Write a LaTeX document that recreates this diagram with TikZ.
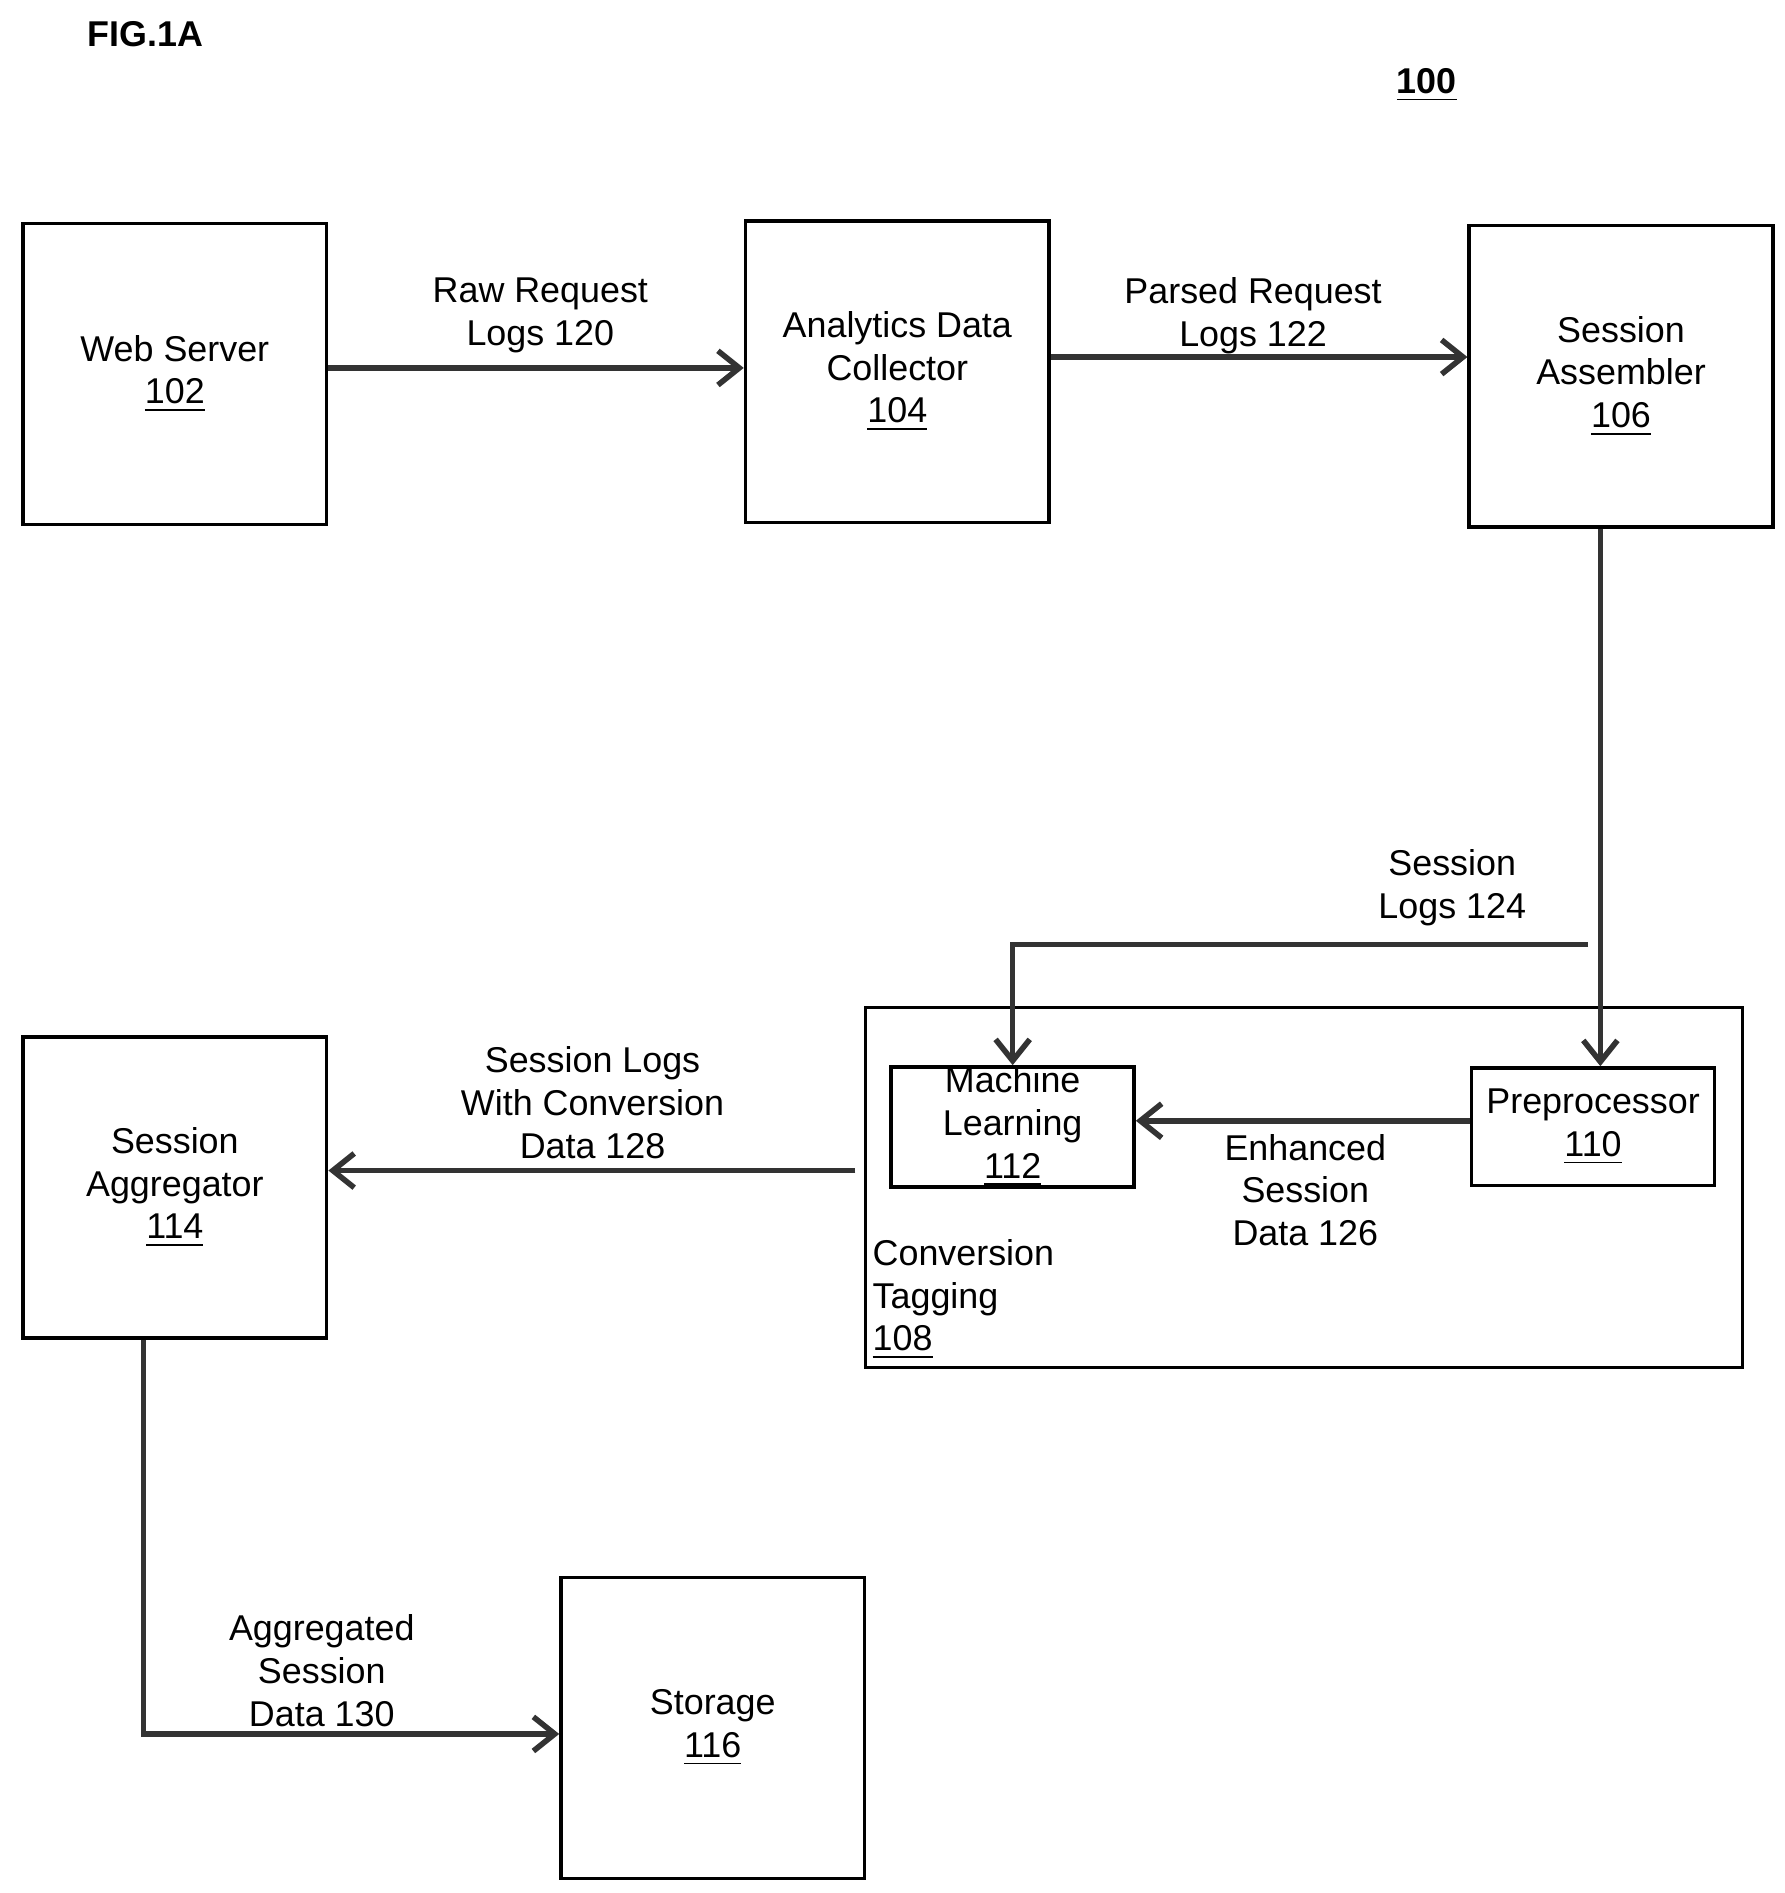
\documentclass[tikz,border=0pt]{standalone}
\usepackage{fontspec}
\setmainfont{Liberation Sans}
\usetikzlibrary{arrows.meta,positioning}
\begin{document}
\fontsize{8.4}{10}\selectfont
\begin{tikzpicture}[x=0.01cm,y=-0.01cm,
        % Styles
        block/.style={draw,line width=0.8pt,minimum width=2.5cm,minimum height=2.48cm,align=center,inner sep=0pt},
        small block/.style={draw,line width=0.8pt,minimum width=2.0cm,minimum height=0.97cm,align=center,inner sep=0pt},
        flow/.style={line width=1.3pt,draw=black!80,-{Straight Barb[length=5pt,width=8pt]}},
        flow label/.style={align=center,inner sep=0pt}]
    \useasboundingbox (0,0) rectangle (1470,1559);
    %header
    \node[font=\bfseries] (fig) at (120,28) {FIG.1A};
    \node[font=\bfseries] (ref) at (1175,70) {\underline{100}};
    %boxes
    \node[block] (web) at (144,308) {Web Server\\\underline{102}};
    \node[block] (collector) at (739,306) {Analytics Data\\Collector\\\underline{104}};
    \node[block] (assembler) at (1335,310) {Session\\Assembler\\\underline{106}};
    \node[draw,line width=0.8pt,minimum width=7.22cm,minimum height=2.96cm,inner sep=0pt] (tagging) at (1074,978) {};
    \node[align=left,anchor=north west,inner sep=0pt] (tagging label) at (718,1020) {Conversion\\Tagging\\\underline{108}};
    \node[small block] (learning) at (834,928) {Machine\\Learning\\\underline{112}};
    \node[small block] (preproc) at (1312,928) {Preprocessor\\\underline{110}};
    \node[block] (aggregator) at (144,978) {Session\\Aggregator\\\underline{114}};
    \node[block] (storage) at (587,1423) {Storage\\\underline{116}};
    %connectors
    \draw[flow] (web.east |- 0,303) -- (collector.west |- 0,303);
    \node[flow label] (l120) at (445,260) {Raw Request\\Logs 120};
    \draw[flow] (collector.east |- 0,294) -- (assembler.west |- 0,294);
    \node[flow label] (l122) at (1032,260) {Parsed Request\\Logs 122};
    \draw[flow] (assembler.south -| 1318,0) -- (preproc.north -| 1318,0);
    \coordinate (split) at (1308,778);
    \draw[flow] (split) -| (learning.north);
    \node[flow label] (l124) at (1196,731) {Session\\Logs 124};
    \draw[flow] (preproc.west |- 0,923) -- (learning.east |- 0,923);
    \node[flow label] (l126) at (1075,980) {Enhanced\\Session\\Data 126};
    \draw[flow] (tagging.west |- 0,964) ++(-7,0) -- (aggregator.east |- 0,964);
    \node[flow label] (l128) at (488,908) {Session Logs\\With Conversion\\Data 128};
    \draw[flow] (aggregator.south -| 118,0) |- (storage.west |- 0,1428);
    \node[flow label] (l130) at (265,1376) {Aggregated\\Session\\Data 130};
\end{tikzpicture}
\end{document}
